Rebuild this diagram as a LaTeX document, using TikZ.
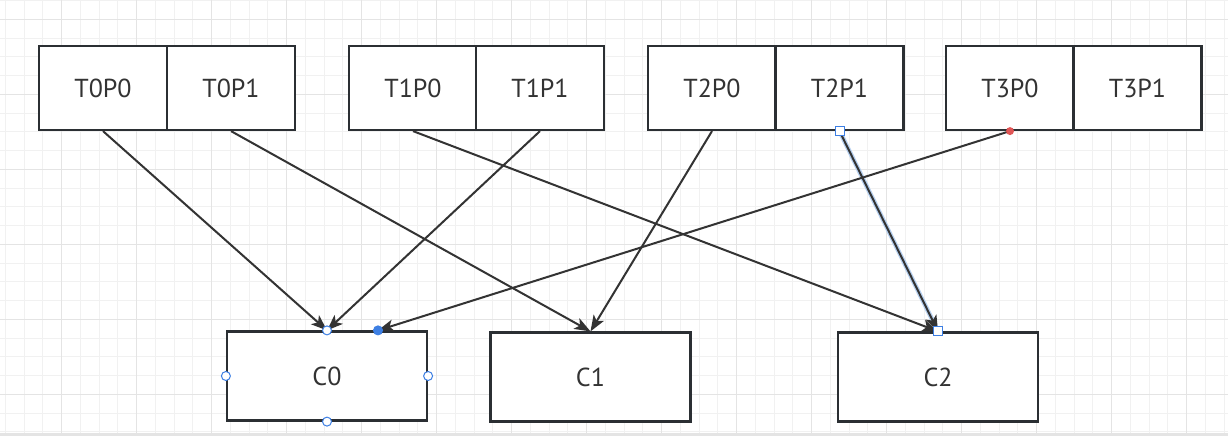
\documentclass[tikz,border=0pt]{standalone}
\usepackage{fontspec}
\setmainfont{PT Sans}
\usetikzlibrary{arrows.meta,calc}
\definecolor{gridminor}{HTML}{F1F1F1}
\definecolor{gridmajor}{HTML}{E4E4E4}
\definecolor{boxline}{HTML}{2B2F33}
\definecolor{edgeline}{HTML}{333333}
\definecolor{selblue}{HTML}{3D7FE3}
\definecolor{selglow}{HTML}{B5CFEF}
\definecolor{pinred}{HTML}{E05555}
\tikzstyle{cell} = [rectangle, draw=boxline, line width=2.2pt, fill=white, minimum width=128pt, minimum height=84pt, inner sep=0pt, text=edgeline, font=\fontsize{26}{30}\selectfont]
\tikzstyle{core} = [cell, minimum width=200pt, minimum height=89pt]
\tikzstyle{arrow} = [draw=edgeline, line width=2pt, -{Stealth[length=16pt,width=12pt,inset=4pt]}]
\tikzstyle{handle} = [circle, draw=selblue, fill=white, line width=1pt, minimum size=9pt, inner sep=0pt]
\tikzstyle{sqhandle} = [rectangle, draw=selblue, fill=white, line width=1pt, minimum size=9pt, inner sep=0pt]

\begin{document}
\begin{tikzpicture}[x=1pt, y=-1pt]
	\useasboundingbox (0,0) rectangle (1228,436);
	\fill[white] (0,0) rectangle (1228,436);
	% grid
	\foreach \gx in {5.45,24.2,...,1228} \draw[gridminor, line width=1pt] (\gx,0) -- (\gx,436);
	\foreach \gy in {0.55,19.3,...,436} \draw[gridminor, line width=1pt] (0,\gy) -- (1228,\gy);
	\foreach \gx in {61.7,136.7,...,1228} \draw[gridmajor, line width=1pt] (\gx,0) -- (\gx,436);
	\foreach \gy in {19.3,94.3,...,436} \draw[gridmajor, line width=1pt] (0,\gy) -- (1228,\gy);
	\fill[gridmajor] (0,433) rectangle (1228,436);
	% threads and partitions
	\node (t0p0) at (103, 88) [cell] {T0P0};
	\node (t0p1) at (231, 88) [cell] {T0P1};
	\node (t1p0) at (413, 88) [cell] {T1P0};
	\node (t1p1) at (540, 88) [cell] {T1P1};
	\node (t2p0) at (712, 88) [cell] {T2P0};
	\node (t2p1) at (839.5, 88) [cell] {T2P1};
	\node (t3p0) at (1010, 88) [cell] {T3P0};
	\node (t3p1) at (1137.5, 88) [cell] {T3P1};
	% consumers
	\node (c0) at (327, 376) [core] {C0};
	\node (c1) at (590.5, 377) [core] {C1};
	\node (c2) at (938, 377) [core] {C2};
	\coordinate (c0in) at ($(c0.north)+(51,0)$);
	\draw [arrow] (t0p0.south) -- (c0.north);
	\draw [arrow] (t0p1.south) -- (c1.north);
	\draw [arrow] (t1p0.south) -- (c2.north);
	\draw [arrow] (t1p1.south) -- (c0.north);
	\draw [arrow] (t2p0.south) -- (c1.north);
	\draw [selglow, line width=4.5pt] (t2p1.south) -- (c2.north);
	\draw [arrow] (t2p1.south) -- (c2.north);
	\draw [arrow] (t3p0.south) -- (c0in);
	% selection handles
	\node (hn) at (c0.north) [handle] {};
	\node (hs) at (c0.south) [handle] {};
	\node (hw) at (c0.west) [handle] {};
	\node (he) at (c0.east) [handle] {};
	\node (hin) at (c0in) [handle, fill=selblue] {};
	\node (hsrc) at (t2p1.south) [sqhandle] {};
	\node (hdst) at (c2.north) [sqhandle] {};
	\node (hpin) at (t3p0.south) [circle, fill=pinred, minimum size=8pt, inner sep=0pt] {};
\end{tikzpicture}
\end{document}
